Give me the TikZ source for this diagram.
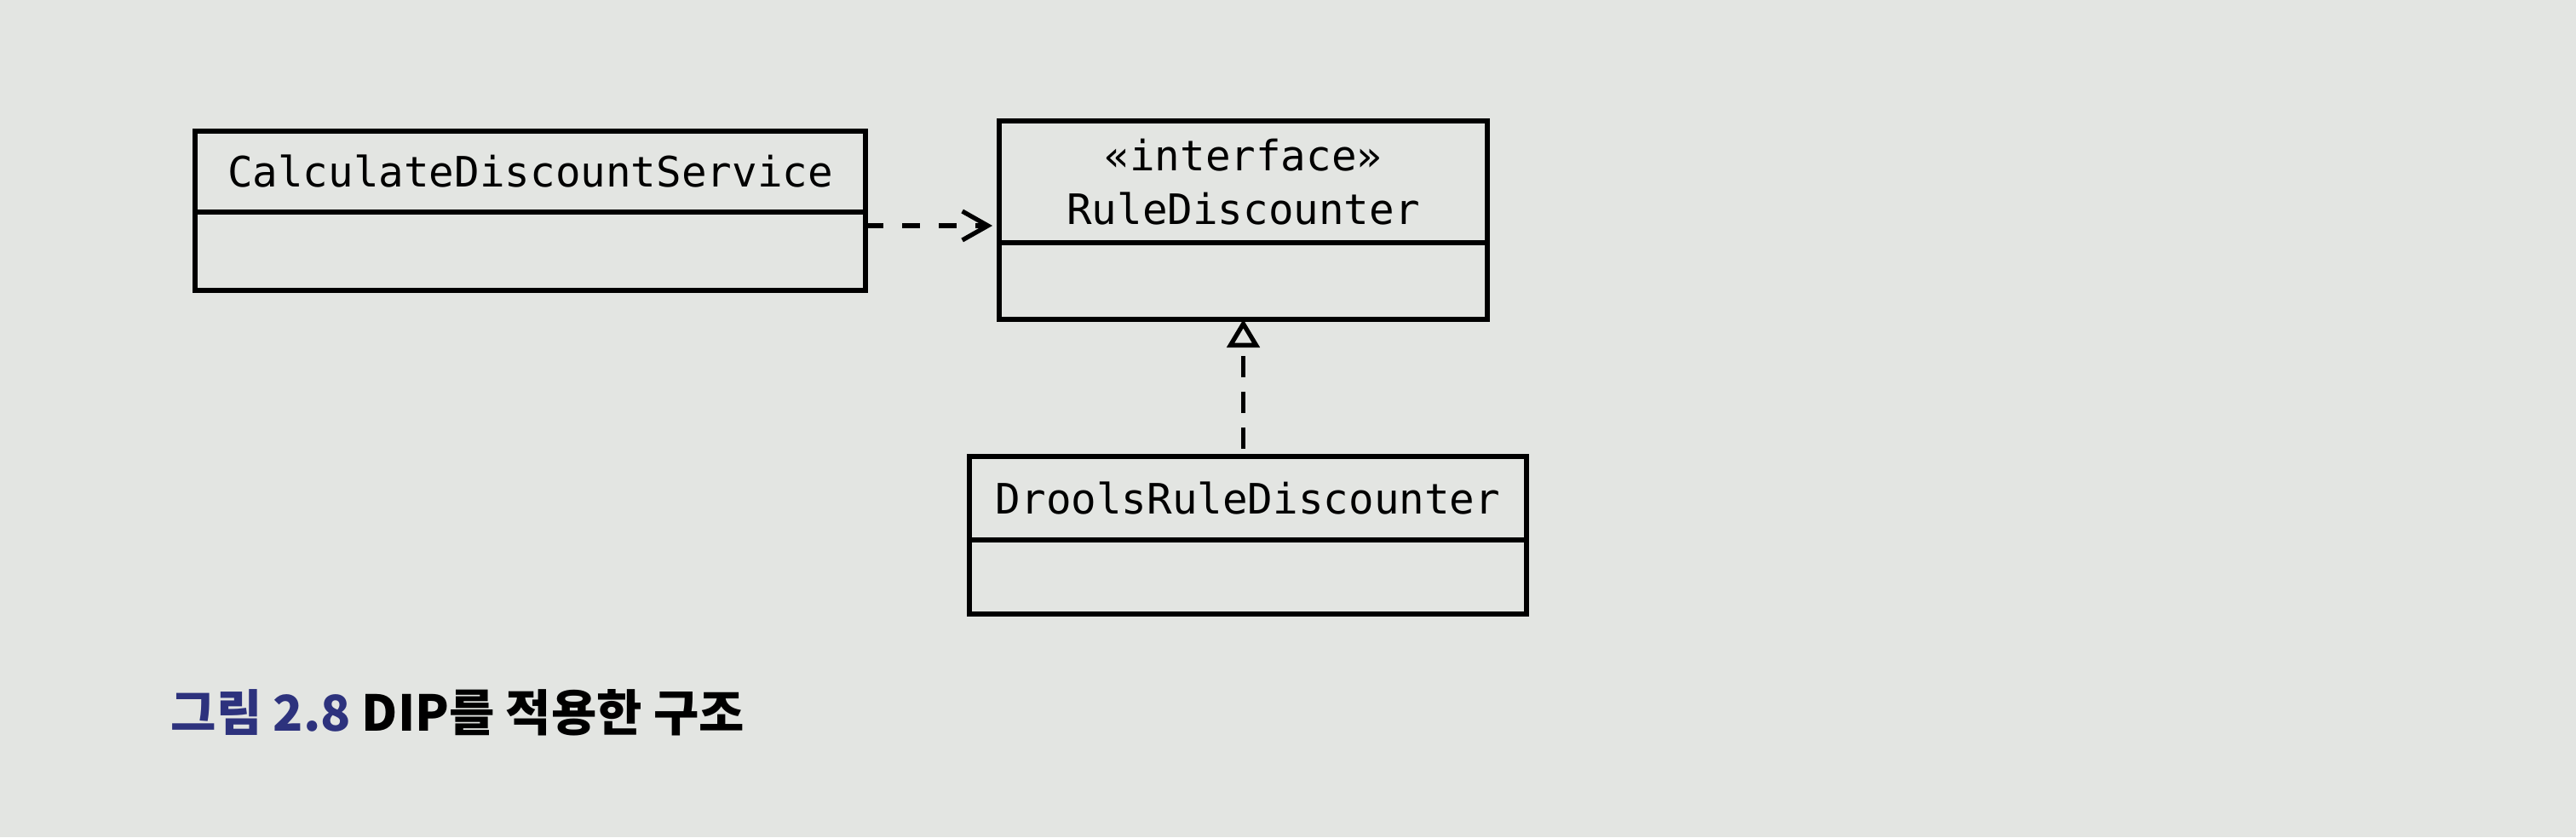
\documentclass[tikz,border=0pt]{standalone}
\usepackage{fontspec}
\usetikzlibrary{arrows.meta}
\usetikzlibrary{positioning}
\newfontfamily\umlfont{DejaVu Sans Mono}
\newfontfamily\cjk{Noto Sans CJK KR}
\definecolor{paper}{RGB}{227,229,226}
\definecolor{figblue}{RGB}{45,50,125}
\newcommand{\boxline}{1.5pt}

\begin{document}
\begin{tikzpicture}
                \fill[paper] (0,0) rectangle (30.24,9.83);

                \begin{scope}[every node/.style={draw,line width=\boxline,anchor=north west,inner sep=0pt,outer sep=0pt,
                    font=\umlfont\fontsize{14}{18}\selectfont}]
                    \node[minimum width=7.87cm,minimum height=0.95cm] (cds) at (2.29,8.29) {CalculateDiscountService};
                    \node[minimum width=7.87cm,minimum height=0.92cm] (cdsb) at (cds.south west) {};
                    \node[minimum width=5.73cm,minimum height=1.43cm,align=center] (rd) at (11.73,8.41) {«interface»\\RuleDiscounter};
                    \node[minimum width=5.73cm,minimum height=0.90cm] (rdb) at (rd.south west) {};
                    \node[minimum width=6.54cm,minimum height=0.98cm] (drd) at (11.38,4.47) {DroolsRuleDiscounter};
                    \node[minimum width=6.54cm,minimum height=0.87cm] (drdb) at (drd.south west) {};
                \end{scope}

                \begin{scope}[line width=\boxline,
                    dep/.style={dash pattern=on 0.21cm off 0.22cm,shorten >=0.08cm,
                        -{Straight Barb[length=0.3cm,width=0.34cm,line width=\boxline]}},
                    real/.style={dash pattern=on 0.25cm off 0.17cm,shorten <=0.09cm,
                        -{Triangle[open,length=0.33cm,width=0.38cm,line width=\boxline]}}]
                    \coordinate (depstart) at ([yshift=-0.16cm]cdsb.north east);
                    \draw[dep] (depstart) -- (depstart -| rd.west);
                    \draw[real] (drd.north -| rdb.south) -- (rdb.south);
                \end{scope}

                \node[anchor=base west,inner sep=0pt,font=\cjk\bfseries\fontsize{16.5}{20}\selectfont] (caption) at (2.0,1.25)
                    {\textcolor{figblue}{그림 2.8} DIP를 적용한 구조};
            \end{tikzpicture}
\end{document}
